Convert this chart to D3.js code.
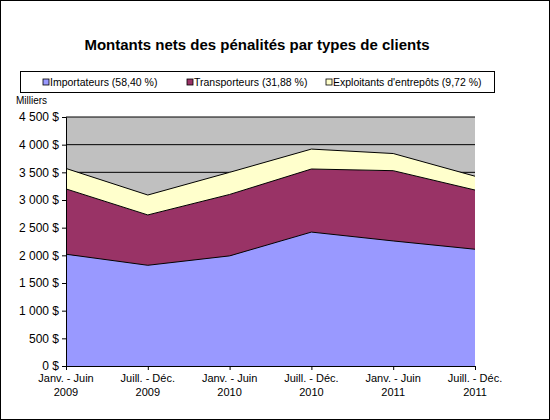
<!DOCTYPE html><html><head><meta charset="utf-8"><script src="https://cdn.jsdelivr.net/npm/d3@7"></script>
<style>body{margin:0;background:#fff}svg{font-family:Arial,"Liberation Sans",sans-serif}</style></head><body><svg id="c" width="550" height="420"></svg>
<script>
const categories=[["Janv. - Juin","2009"],["Juill. - Déc.","2009"],["Janv. - Juin","2010"],["Juill. - Déc.","2010"],["Janv. - Juin","2011"],["Juill. - Déc.","2011"]];
const importateurs=[2020,1820,1990,2420,2260,2110];
const transporteurs=[1180,910,1110,1140,1270,1070];
const exploitants=[370,360,400,360,310,250];
const yTicks=[0,500,1000,1500,2000,2500,3000,3500,4000,4500];
const seriesNames=["Importateurs (58,40 %)","Transporteurs (31,88 %)","Exploitants d'entrepôts (9,72 %)"];
const colors=["#9999ff","#993366","#ffffcc"];
const svg=d3.select("#c");
svg.append("rect").attr("x",0.5).attr("y",0.5).attr("width",549).attr("height",419).attr("fill","#fff").attr("stroke","#000");
svg.append("text").attr("x",257).attr("y",50).attr("text-anchor","middle").attr("font-size",15).attr("font-weight","bold").text("Montants nets des pénalités par types de clients");
const x=d3.scalePoint().domain(d3.range(6)).range([66,475]);
const y=d3.scaleLinear().domain([0,4500]).range([366,117]);
svg.append("rect").attr("x",66).attr("y",117).attr("width",409).attr("height",249).attr("fill","#c0c0c0");
svg.selectAll(".g").data(yTicks.slice(1)).join("line").attr("x1",66).attr("x2",475).attr("y1",d=>y(d)).attr("y2",d=>y(d)).attr("stroke","#000");
const data=d3.range(6).map(i=>({i,a:importateurs[i],b:transporteurs[i],c:exploitants[i]}));
const stack=d3.stack().keys(["a","b","c"])(data);
const area=d3.area().x(d=>x(d.data.i)).y0(d=>y(d[0])).y1(d=>y(d[1]));
const line=d3.line().x(d=>x(d.data.i)).y(d=>y(d[1]));
stack.forEach((s,k)=>{svg.append("path").datum(s).attr("d",area).attr("fill",colors[k]);});
stack.forEach((s,k)=>{svg.append("path").datum(s).attr("d",line).attr("fill","none").attr("stroke","#000").attr("stroke-width",1);});
const ya=svg.append("g").attr("transform","translate(66,0)").call(d3.axisLeft(y).tickValues(yTicks).tickSize(4).tickFormat(d=>d3.format(",")(d).replace(",","\u00a0")+" $"));
ya.select(".domain").attr("stroke","#000");ya.selectAll("text").attr("font-size",12).attr("font-family","Arial,'Liberation Sans',sans-serif");
const xa=svg.append("g").attr("transform","translate(0,366)").call(d3.axisBottom(x).tickSize(4).tickFormat(""));
xa.selectAll("text").remove();
categories.forEach((c,i)=>{const t=svg.append("text").attr("x",x(i)).attr("y",382).attr("text-anchor","middle").attr("font-size",11);
t.append("tspan").attr("x",x(i)).text(c[0]);t.append("tspan").attr("x",x(i)).attr("dy",14).text(c[1]);});
svg.append("text").attr("x",16).attr("y",104).attr("font-size",10).text("Milliers");
svg.append("rect").attr("x",20.5).attr("y",71.5).attr("width",474).attr("height",21).attr("fill","#fff").attr("stroke","#000");
const lx=[43,187,326];
seriesNames.forEach((n,k)=>{svg.append("rect").attr("x",lx[k]).attr("y",79).attr("width",6).attr("height",6).attr("fill",colors[k]).attr("stroke","#000").attr("stroke-width",0.8);
svg.append("text").attr("x",lx[k]+7).attr("y",86).attr("font-size",10.5).text(n);});
</script></body></html>
